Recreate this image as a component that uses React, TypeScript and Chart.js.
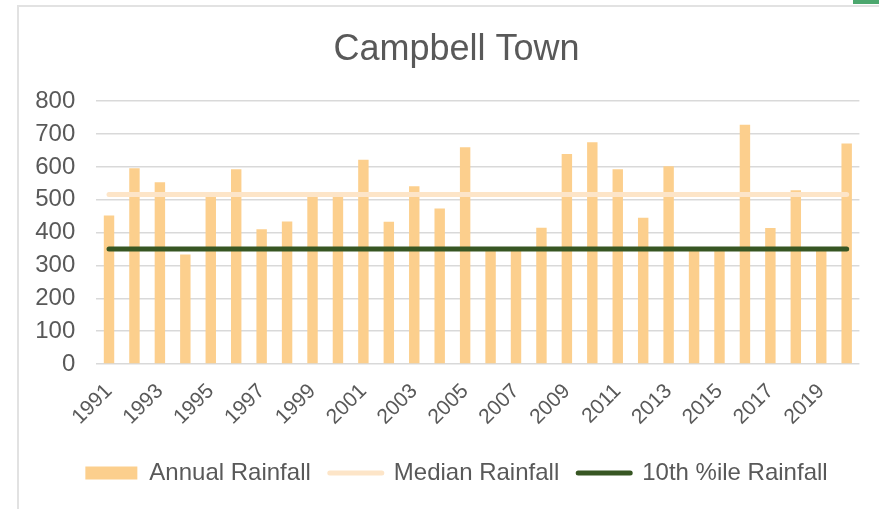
import React, { useEffect, useRef } from "react";
import { Chart, registerables } from "chart.js";

Chart.register(...registerables);

const YEARS = [
  "1991", "1992", "1993", "1994", "1995", "1996", "1997", "1998", "1999", "2000",
  "2001", "2002", "2003", "2004", "2005", "2006", "2007", "2008", "2009", "2010",
  "2011", "2012", "2013", "2014", "2015", "2016", "2017", "2018", "2019", "2020",
];
const ANNUAL_RAINFALL = [
  452, 596, 553, 333, 514, 593, 410, 434, 517, 518,
  622, 433, 541, 473, 660, 349, 352, 415, 639, 675,
  593, 445, 602, 347, 355, 728, 414, 529, 350, 671,
];
const MEDIAN_RAINFALL = 516;
const TENTH_PERCENTILE_RAINFALL = 350;
const Y_MIN = 0;
const Y_MAX = 800;
const Y_STEP = 100;

const TITLE = "Campbell Town";
const SERIES_NAMES = ["Annual Rainfall", "Median Rainfall", "10th %ile Rainfall"];

const BAR_COLOR = "#FCCF8D";
const MEDIAN_COLOR = "#FDE5C8";
const TENTH_COLOR = "#375623";
const TEXT_COLOR = "#595959";
const GRID_COLOR = "#D9D9D9";
const FONT_FAMILY = "'Liberation Sans', Arial, Helvetica, sans-serif";

export default function App() {
  const canvasRef = useRef<HTMLCanvasElement | null>(null);

  useEffect(() => {
    if (!canvasRef.current) return;
    const colors = [BAR_COLOR, MEDIAN_COLOR, TENTH_COLOR];
    const chart = new Chart(canvasRef.current, {
      type: "bar",
      data: {
        labels: YEARS,
        datasets: [
          {
            type: "bar",
            label: SERIES_NAMES[0],
            data: ANNUAL_RAINFALL,
            backgroundColor: BAR_COLOR,
            borderWidth: 0,
            barPercentage: 0.41,
            categoryPercentage: 1,
            order: 2,
          },
          {
            type: "line",
            label: SERIES_NAMES[1],
            data: YEARS.map(() => MEDIAN_RAINFALL),
            borderColor: MEDIAN_COLOR,
            backgroundColor: MEDIAN_COLOR,
            borderWidth: 5,
            borderCapStyle: "round",
            pointRadius: 0,
            fill: false,
            order: 1,
          },
          {
            type: "line",
            label: SERIES_NAMES[2],
            data: YEARS.map(() => TENTH_PERCENTILE_RAINFALL),
            borderColor: TENTH_COLOR,
            backgroundColor: TENTH_COLOR,
            borderWidth: 5,
            borderCapStyle: "round",
            pointRadius: 0,
            fill: false,
            order: 0,
          },
        ],
      } as any,
      options: {
        animation: false,
        responsive: false,
        devicePixelRatio: 1,
        layout: { padding: { left: 34, right: 0, top: 0, bottom: 14 } },
        plugins: {
          title: {
            display: true,
            text: TITLE,
            color: TEXT_COLOR,
            font: { size: 36, family: FONT_FAMILY, weight: "normal" },
            padding: { top: 28, bottom: 30 },
          },
          legend: {
            position: "bottom",
            labels: {
              usePointStyle: true,
              pointStyleWidth: 52,
              boxHeight: 13,
              padding: 19,
              color: TEXT_COLOR,
              font: { size: 24, family: FONT_FAMILY },
              generateLabels: (c: any) =>
                c.data.datasets.map((ds: any, i: number) => ({
                  text: ds.label,
                  datasetIndex: i,
                  hidden: false,
                  fontColor: TEXT_COLOR,
                  fillStyle: colors[i],
                  strokeStyle: colors[i],
                  lineWidth: i === 0 ? 0 : 5,
                  lineCap: "round",
                  pointStyle: i === 0 ? "rect" : "line",
                })),
            },
          },
          tooltip: { enabled: false },
        },
        scales: {
          x: {
            grid: { display: false },
            border: { display: false },
            ticks: {
              autoSkip: false,
              minRotation: 45,
              maxRotation: 45,
              padding: 7,
              color: TEXT_COLOR,
              font: { size: 21, family: FONT_FAMILY },
              callback: function (this: any, v: any, i: number) {
                return i % 2 === 0 ? this.getLabelForValue(v) : "";
              },
            },
            afterFit: (s: any) => {
              s.height = 78;
            },
          },
          y: {
            min: Y_MIN,
            max: Y_MAX,
            ticks: {
              stepSize: Y_STEP,
              padding: 21,
              color: TEXT_COLOR,
              font: { size: 24, family: FONT_FAMILY },
            },
            grid: { color: GRID_COLOR, lineWidth: 1.5, drawTicks: false },
            border: { display: false },
            afterFit: (s: any) => {
              s.width = 62.3;
            },
          },
          y2: {
            type: "linear",
            position: "right",
            display: true,
            grid: { display: false, drawTicks: false },
            ticks: { display: false },
            border: { display: false },
            afterFit: (s: any) => {
              s.width = 19.6;
            },
          },
        },
      } as any,
    });
    return () => chart.destroy();
  }, []);

  return (
    <div
      style={{
        position: "fixed",
        left: 0,
        top: 0,
        width: 879,
        height: 509,
        background: "#ffffff",
        overflow: "hidden",
      }}
    >
      <div
        style={{
          position: "absolute",
          left: 17,
          top: 5,
          width: 900,
          height: 600,
          borderTop: "2px solid #E2E2E2",
          borderLeft: "2px solid #E2E2E2",
          boxSizing: "border-box",
        }}
      />
      <div
        style={{
          position: "absolute",
          left: 853,
          top: 0,
          width: 26,
          height: 4,
          background: "#4CA76E",
        }}
      />
      <canvas
        ref={canvasRef}
        width={879}
        height={509}
        style={{ position: "absolute", left: 0, top: 0, width: 879, height: 509 }}
      />
    </div>
  );
}
